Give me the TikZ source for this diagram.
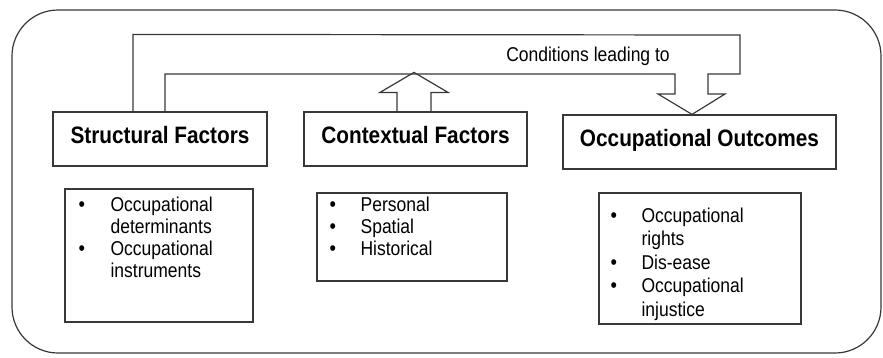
\documentclass[tikz,border=0pt]{standalone}
\usepackage{fontspec}
\setmainfont[FakeStretch=0.875]{Liberation Sans}
\usetikzlibrary{calc}

\colorlet{linegray}{black!78}
\newcommand{\bul}{{\fontsize{21}{21}\selectfont\textbullet}}

\begin{document}
\begin{tikzpicture}[x=1pt,y=-1pt,line width=1.2pt,
  head node/.style={draw=linegray,rectangle,minimum height=54pt,text height=18pt,text depth=9pt,
                    inner sep=0pt,font=\fontsize{23.75}{26}\selectfont\bfseries},
  list box/.style={draw=linegray,rectangle,inner sep=0pt},
  list text/.style={anchor=north west,inner sep=0pt,align=left,font=\fontsize{20}{22}\selectfont},
  band/.style={draw=linegray,line join=miter}]

  \useasboundingbox (0,0) rectangle (883,357);
  \draw[linegray,rounded corners=46pt] (12,10) rectangle (881,353);

  % headings
  \node[head node,minimum width=214pt] (struct) at (160,139) {Structural Factors};
  \node[head node,minimum width=223pt] (context) at (415.5,139) {Contextual Factors};
  \node[head node,minimum width=273pt] (outcome) at (699.5,142) {Occupational Outcomes};

  % lists
  \node[list box,minimum width=188pt,minimum height=133pt] (structbox) at (159,255.5) {};
  \node[list text] (structlist) at (78,195) {\begin{tabular}{@{}p{32pt}@{}l@{}}
      \bul & Occupational\\ & determinants\\
      \bul & Occupational\\ & instruments\end{tabular}};
  \node[list box,minimum width=190pt,minimum height=88pt] (contextbox) at (412,237) {};
  \node[list text] (contextlist) at (329,195) {\begin{tabular}{@{}p{31pt}@{}l@{}}
      \bul & Personal\\ \bul & Spatial\\ \bul & Historical\end{tabular}};
  \node[list box,minimum width=202pt,minimum height=131pt] (outcomebox) at (700,258.5) {};
  \node[list text,font=\fontsize{20}{23.5}\selectfont] (outcomelist) at (610,205) {\begin{tabular}{@{}p{31pt}@{}l@{}}
      \bul & Occupational\\ & rights\\ \bul & Dis-ease\\
      \bul & Occupational\\ & injustice\end{tabular}};

  % hollow arrows
  \draw[band] ([xshift=-27pt]struct.north) -- ++(0,-77) -- (740,35) -- (740,74)
    -- (708,74) -- (708,94) -- (725,94) -- ([xshift=-7.5pt]outcome.north)
    -- (658,94) -- (675,94) -- (675,74) -- (165,74) -- ([xshift=5pt]struct.north);
  \draw[band] ([xshift=-18.5pt]context.north) -- ++(0,-19) -- ++(-17,0) -- ++(34,-20)
    -- ++(34,20) -- ++(-17,0) -- ([xshift=15.5pt]context.north);
  \node[font=\fontsize{20}{22}\selectfont] (cond) at (588,56) {Conditions leading to};
\end{tikzpicture}
\end{document}
